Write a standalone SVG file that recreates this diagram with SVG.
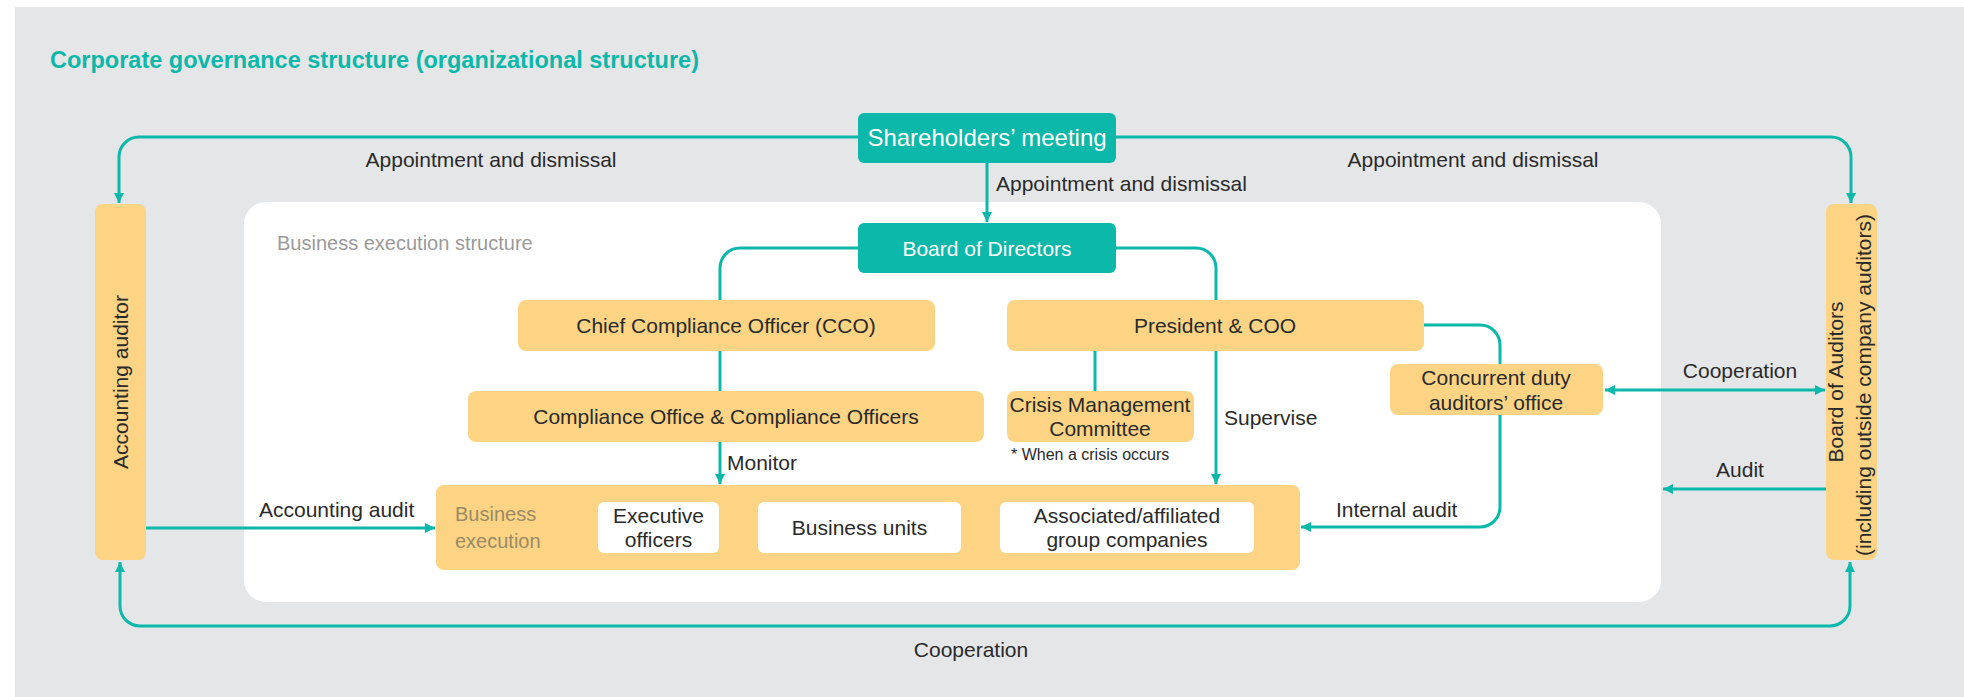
<svg xmlns="http://www.w3.org/2000/svg" width="1964" height="697" viewBox="0 0 1964 697">
<defs>
<style>
.t{font-family:"Liberation Sans",Arial,sans-serif;font-size:21px;fill:#2a2a2a}
.m{text-anchor:middle}
.w{fill:#ffffff}
.y{fill:#fdd484}
.g{fill:#0cb8a9}
.wb{fill:#ffffff}
.ln{fill:none;stroke:#0cb8a9;stroke-width:3}
</style>
<marker id="ah" viewBox="0 0 10 10" refX="10" refY="5" markerWidth="10" markerHeight="11" markerUnits="userSpaceOnUse" orient="auto-start-reverse">
<path d="M0,0 L10,5 L0,10 z" fill="#0cb8a9"/>
</marker>
</defs>
<rect x="0" y="0" width="1964" height="697" fill="#ffffff"/>
<rect x="15" y="7" width="1949" height="690" fill="#e5e6e8"/>
<text class="t" x="50" y="68" style="font-size:23.5px;font-weight:bold;fill:#0cb8a9">Corporate governance structure (organizational structure)</text>

<g id="business-execution-structure">
<rect x="244" y="202" width="1417" height="400" rx="22" fill="#ffffff"/>
<text class="t" x="277" y="250" style="font-size:20px;fill:#9a9a9a">Business execution structure</text>
</g>

<g id="connectors">
<path class="ln" d="M858,137 H139 A20,20 0 0 0 119,157 V203" marker-end="url(#ah)"/>
<path class="ln" d="M1116,137 H1831 A20,20 0 0 1 1851,157 V203" marker-end="url(#ah)"/>
<path class="ln" d="M120,562 V606 A20,20 0 0 0 140,626 H1830 A20,20 0 0 0 1850,606 V562" marker-start="url(#ah)" marker-end="url(#ah)"/>
<path class="ln" d="M987,163 V222" marker-end="url(#ah)"/>
<path class="ln" d="M858,248 H740 A20,20 0 0 0 720,268 V300"/>
<path class="ln" d="M1116,248 H1196 A20,20 0 0 1 1216,268 V300"/>
<path class="ln" d="M720,351 V391"/>
<path class="ln" d="M720,442 V484" marker-end="url(#ah)"/>
<path class="ln" d="M1216,351 V484" marker-end="url(#ah)"/>
<path class="ln" d="M1095,351 V391"/>
<path class="ln" d="M1424,325 H1480 A20,20 0 0 1 1500,345 V364"/>
<path class="ln" d="M1500,415 V507 A20,20 0 0 1 1480,527 H1301" marker-end="url(#ah)"/>
<path class="ln" d="M146,528 H435" marker-end="url(#ah)"/>
<path class="ln" d="M1605,390 H1825" marker-start="url(#ah)" marker-end="url(#ah)"/>
<path class="ln" d="M1826,489 H1663" marker-end="url(#ah)"/>
<text class="t m" x="491" y="167">Appointment and dismissal</text>
<text class="t m" x="1473" y="167">Appointment and dismissal</text>
<text class="t" x="996" y="191">Appointment and dismissal</text>
<text class="t" x="727" y="470">Monitor</text>
<text class="t" x="1224" y="425">Supervise</text>
<text class="t" x="1336" y="517">Internal audit</text>
<text class="t m" x="1740" y="378">Cooperation</text>
<text class="t m" x="1740" y="477">Audit</text>
<text class="t" x="259" y="517">Accounting audit</text>
<text class="t m" x="971" y="657">Cooperation</text>
</g>

<g id="shareholders-meeting">
<rect class="g" x="858" y="113" width="258" height="50" rx="6"/>
<text class="t m w" x="987" y="146" style="font-size:24px">Shareholders’ meeting</text>
</g>
<g id="board-of-directors">
<rect class="g" x="858" y="223" width="258" height="50" rx="6"/>
<text class="t m w" x="987" y="256">Board of Directors</text>
</g>
<g id="accounting-auditor">
<rect class="y" x="95" y="204" width="51" height="356" rx="8"/>
<text class="t m" transform="translate(128,382) rotate(-90)">Accounting auditor</text>
</g>
<g id="board-of-auditors">
<rect class="y" x="1826" y="204" width="51" height="356" rx="8"/>
<text class="t m" transform="translate(1843,382) rotate(-90)">Board of Auditors</text>
<text class="t m" transform="translate(1871,385) rotate(-90)">(including outside company auditors)</text>
</g>
<g id="cco">
<rect class="y" x="518" y="300" width="417" height="51" rx="8"/>
<text class="t m" x="726" y="333">Chief Compliance Officer (CCO)</text>
</g>
<g id="president-coo">
<rect class="y" x="1007" y="300" width="417" height="51" rx="8"/>
<text class="t m" x="1215" y="333">President &amp; COO</text>
</g>
<g id="compliance-office">
<rect class="y" x="468" y="391" width="516" height="51" rx="8"/>
<text class="t m" x="726" y="424">Compliance Office &amp; Compliance Officers</text>
</g>
<g id="crisis-management-committee">
<rect class="y" x="1007" y="391" width="187" height="51" rx="8"/>
<text class="t m" x="1100" y="412">Crisis Management</text>
<text class="t m" x="1100" y="436">Committee</text>
<text class="t" x="1011" y="460" style="font-size:16px">* When a crisis occurs</text>
</g>
<g id="concurrent-duty-auditors-office">
<rect class="y" x="1390" y="364" width="213" height="51" rx="8"/>
<text class="t m" x="1496" y="385">Concurrent duty</text>
<text class="t m" x="1496" y="410">auditors’ office</text>
</g>
<g id="business-execution">
<rect class="y" x="436" y="485" width="864" height="85" rx="8"/>
<text class="t" x="455" y="521" style="font-size:20px;fill:#9c8a64">Business</text>
<text class="t" x="455" y="548" style="font-size:20px;fill:#9c8a64">execution</text>
</g>
<g id="executive-officers">
<rect class="wb" x="598" y="502" width="121" height="51" rx="6"/>
<text class="t m" x="658.5" y="523">Executive</text>
<text class="t m" x="658.5" y="547">officers</text>
</g>
<g id="business-units">
<rect class="wb" x="758" y="502" width="203" height="51" rx="6"/>
<text class="t m" x="859.5" y="535">Business units</text>
</g>
<g id="associated-companies">
<rect class="wb" x="1000" y="502" width="254" height="51" rx="6"/>
<text class="t m" x="1127" y="523">Associated/affiliated</text>
<text class="t m" x="1127" y="547">group companies</text>
</g>
</svg>
